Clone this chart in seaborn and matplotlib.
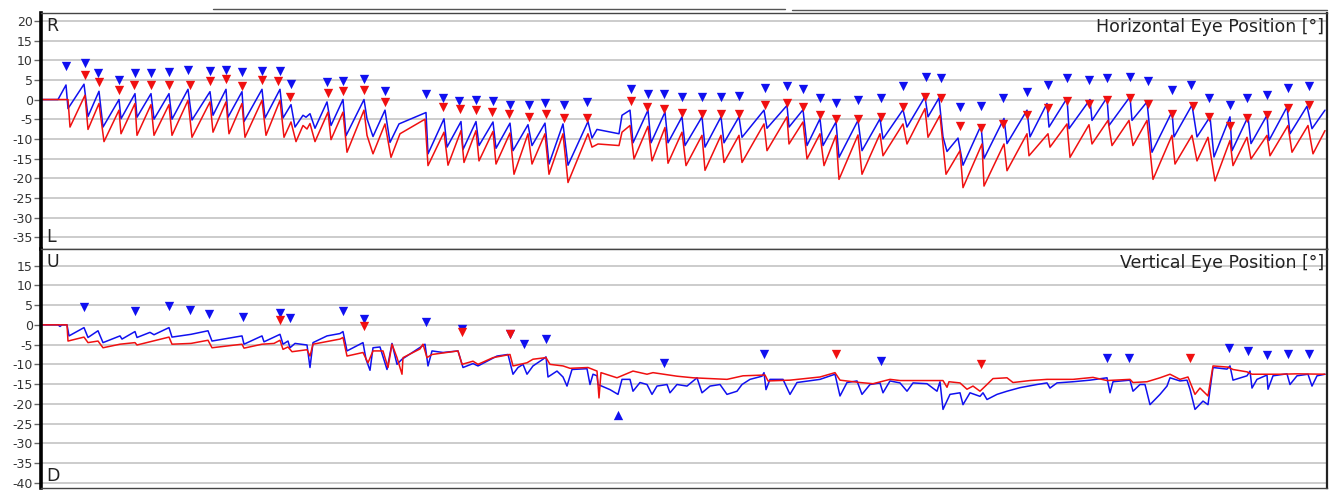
import numpy as np
import pandas as pd
import matplotlib
matplotlib.use("Agg")
import matplotlib.pyplot as plt
from matplotlib.lines import Line2D
import seaborn as sns

# horizontal eye position, blue trace (time, degrees)
hb_t = [0, 17, 25, 27, 43, 47, 58, 62, 78, 80, 94, 96, 110, 113, 128, 131, 147, 151, 169, 172,
        185, 187, 201, 203, 221, 224, 239, 242, 250, 254, 262, 265, 269, 274, 286, 290, 302, 305,
        323, 326, 332, 344, 349, 358, 385, 387, 403, 406, 420, 422, 435, 438, 452, 455, 469, 472,
        487, 491, 504, 508, 522, 527, 547, 551, 556, 578, 581, 589, 592, 607, 610, 624, 627, 641,
        644, 661, 664, 680, 683, 698, 701, 723, 726, 746, 748, 762, 766, 779, 782, 795, 798, 817,
        821, 839, 842, 862, 866, 884, 887, 898, 902, 906, 917, 922, 940, 943, 963, 966, 986, 989,
        1006, 1008, 1026, 1028, 1049, 1051, 1066, 1068, 1089, 1091, 1106, 1111, 1131, 1133, 1151,
        1156, 1169, 1173, 1189, 1191, 1207, 1210, 1226, 1228, 1246, 1249, 1266, 1271, 1284]
hb_v = [0, 0, 3.7, -2.3, 3.9, -4.3, 2.1, -7.0, 0.0, -4.9, 1.5, -4.5, 1.5, -5.0, 1.5, -5.0, 2.6, -5.2, 2.0, -4.0,
        2.6, -4.5, 2.0, -5.6, 2.6, -4.7, 2.6, -4.7, -1.3, -7.0, -4.0, -4.5, -3.6, -7.3, -0.6, -6.6, 0.0, -9.2,
        0.0, -4.9, -9.4, -2.7, -10.9, -6.2, -3.3, -13.8, -4.9, -12.1, -5.6, -12.7, -5.6, -11.7, -5.7, -12.4, -6.0, -13.0,
        -6.4, -11.7, -6.0, -16.4, -6.2, -16.7, -5.6, -9.8, -7.6, -8.7, -4.0, -2.7, -11.0, -2.7, -11.0, -3.2, -11.0, -4.4,
        -11.7, -4.4, -12.1, -4.4, -11.0, -4.4, -9.6, -2.7, -7.3, -1.5, -7.0, -2.6, -11.7, -4.9, -11.7, -5.7, -14.7, -5.3,
        -13.0, -4.9, -10.0, -2.6, -7.0, 0.7, -4.4, 0.4, -9.5, -13.2, -9.8, -16.7, -6.6, -15.0, -4.8, -11.2, -2.7, -9.5,
        -1.0, -7.0, 0.3, -7.4, 0.0, -5.3, 0.5, -6.6, 0.7, -5.3, -0.6, -13.4, -3.1, -9.5, -1.4,
        -9.5, -4.4, -14.6, -4.4, -13.0, -4.4, -11.2, -4.0, -10.4, -1.9, -8.7, -1.7, -7.4, -2.7]

# horizontal eye position, red trace
hr_t = [0, 27, 29, 44, 47, 58, 63, 78, 80, 94, 96, 110, 113, 128, 131, 147, 151, 169, 172, 185,
        188, 201, 204, 221, 225, 239, 243, 250, 255, 262, 266, 269, 274, 287, 290, 302, 306, 323,
        326, 332, 344, 350, 359, 384, 387, 403, 407, 420, 423, 435, 438, 452, 455, 469, 473, 487,
        491, 504, 508, 522, 527, 547, 551, 557, 578, 581, 589, 593, 607, 611, 624, 627, 641, 645,
        661, 664, 680, 683, 698, 701, 723, 726, 746, 748, 762, 766, 779, 783, 795, 798, 817, 821,
        839, 842, 862, 866, 884, 887, 899, 905, 919, 922, 941, 943, 963, 966, 986, 988, 1007, 1009,
        1026, 1029, 1048, 1051, 1067, 1071, 1088, 1092, 1106, 1112, 1131, 1134, 1151, 1156, 1167,
        1174, 1189, 1192, 1206, 1210, 1226, 1229, 1247, 1251, 1267, 1272, 1284]
hr_v = [0, 0, -7.0, 1.1, -7.6, -1.0, -10.7, -2.7, -8.7, -1.0, -9.1, -1.3, -9.1, -1.3, -9.1, -0.2, -9.6, -0.6, -8.3, -0.6,
        -8.7, -1.0, -9.6, -0.2, -9.1, -0.2, -9.6, -5.7, -10.7, -6.6, -7.5, -6.1, -10.7, -3.2, -10.2, -3.2, -13.4, -2.7,
        -9.1, -13.8, -6.2, -14.7, -8.7, -5.0, -16.8, -8.3, -16.7, -7.9, -16.0, -7.9, -15.6, -8.1, -16.4, -8.5, -19.0, -8.7,
        -16.4, -8.7, -19.0, -8.7, -21.1, -8.7, -12.1, -11.3, -11.7, -8.3, -6.6, -15.1, -6.8, -15.6, -7.1, -16.2, -8.3, -16.8,
        -9.1, -18.0, -9.1, -16.0, -9.1, -16.0, -6.2, -13.0, -4.4, -11.3, -5.7, -15.1, -8.7, -16.8, -9.1, -20.3, -9.0, -19.0,
        -8.7, -14.3, -6.2, -11.3, -2.3, -9.6, -4.0, -19.0, -13.0, -22.4, -11.3, -22.0, -11.3, -18.1, -8.7, -14.3, -8.7, -12.1,
        -6.2, -14.7, -6.4, -11.3, -5.3, -11.7, -5.3, -11.7, -5.3, -20.3, -9.1, -16.4, -9.1, -15.6, -9.6,
        -20.7, -10.4, -16.8, -9.6, -15.1, -9.1, -14.3, -6.6, -13.4, -6.6, -13.8, -7.9]

# horizontal markers
hbm_t = [25, 44, 57, 78, 94, 110, 128, 147, 169, 185, 201, 221, 239, 250, 286, 302, 323, 344, 385, 402,
         418, 435, 452, 469, 488, 504, 523, 546, 590, 607, 623, 641, 661, 680, 698, 724, 746, 762, 779, 795,
         817, 840, 862, 885, 900, 919, 940, 962, 986, 1007, 1026, 1048, 1066, 1089, 1107, 1131, 1150, 1168, 1189, 1206,
         1226, 1247, 1268]
hbm_v = [8.5, 9.2, 6.7, 5.0, 6.7, 6.7, 6.9, 7.5, 7.3, 7.5, 6.9, 7.3, 7.3, 3.9, 4.4, 4.7, 5.2, 2.1, 1.5, 0.3,
         -0.4, -0.2, -0.4, -1.3, -1.5, -1.0, -1.5, -0.6, 2.6, 1.5, 1.5, 0.7, 0.7, 0.7, 0.9, 3.0, 3.5, 2.6, 0.3, -1.0,
         -0.2, 0.4, 3.5, 5.8, 5.4, -1.9, -1.6, 0.4, 2.0, 3.8, 5.6, 5.0, 5.6, 5.8, 4.8, 2.4, 3.8, 0.4, -1.5, 0.4,
         1.1, 3.0, 3.5]
hrm_t = [44, 58, 78, 93, 110, 128, 149, 169, 185, 201, 221, 237, 249, 287, 302, 323, 344, 402, 419, 435,
         451, 468, 488, 505, 523, 546, 590, 606, 623, 641, 661, 680, 698, 724, 746, 762, 779, 795, 817, 840,
         862, 884, 900, 919, 940, 962, 986, 1007, 1026, 1048, 1066, 1089, 1107, 1131, 1152, 1168, 1189, 1206, 1226, 1247,
         1268]
hrm_v = [6.2, 4.4, 2.5, 3.8, 3.7, 3.8, 3.8, 4.7, 5.2, 3.5, 5.0, 4.7, 0.7, 1.7, 2.1, 2.4, -0.6, -1.9, -2.3, -2.7,
         -3.2, -3.6, -4.4, -3.6, -4.7, -4.7, -0.4, -1.9, -2.3, -3.4, -3.8, -3.8, -3.8, -1.5, -0.9, -1.9, -4.0, -4.9, -4.9, -4.4,
         -1.9, 0.7, 0.4, -6.8, -7.2, -6.2, -4.0, -2.1, -0.4, -1.2, -0.2, 0.3, -1.2, -3.8, -1.6, -4.4, -6.8, -4.7, -4.0, -2.1,
         -1.5]

# vertical eye position, blue trace
vb_t = [0, 17, 19, 21, 26, 28, 43, 47, 57, 62, 79, 81, 94, 96, 109, 113, 128, 131, 150, 167,
        171, 201, 203, 221, 223, 239, 242, 247, 249, 254, 266, 269, 272, 286, 299, 302, 306, 322, 325, 329,
        332, 339, 346, 351, 356, 361, 384, 387, 391, 402, 417, 422, 432, 437, 456, 467, 472, 477, 482, 486,
        492, 502, 505, 507, 516, 522, 526, 531, 546, 549, 552, 556, 557, 569, 577, 581, 589, 592, 599, 606,
        611, 616, 626, 629, 636, 646, 656, 661, 669, 679, 686, 696, 701, 709, 721, 723, 725, 729, 742, 749,
        756, 779, 794, 799, 806, 816, 821, 829, 839, 842, 849, 859, 866, 872, 886, 896, 899, 902, 909, 919,
        922, 929, 939, 942, 946, 956, 966, 979, 996, 1006, 1009, 1016, 1032, 1049, 1066, 1069, 1072, 1089, 1092, 1099,
        1104, 1109, 1119, 1126, 1129, 1139, 1146, 1149, 1154, 1162, 1167, 1172, 1186, 1189, 1192, 1206, 1209, 1211, 1216, 1226,
        1227, 1232, 1246, 1249, 1256, 1267, 1271, 1276, 1284]
vb_v = [0, 0, -0.4, 0, 0, -2.8, -0.7, -3.2, -1.5, -4.5, -2.8, -3.6, -1.7, -3.2, -1.9, -2.5, -0.7, -3.1, -2.4, -1.5,
        -4.1, -2.8, -4.9, -2.8, -4.3, -2.4, -4.9, -4.1, -5.8, -4.7, -5.1, -10.8, -4.5, -2.8, -2.2, -1.7, -6.6, -4.5, -8.7, -11.5,
        -5.8, -5.6, -11.3, -4.7, -10.0, -8.7, -4.9, -10.4, -6.6, -7.0, -6.6, -10.8, -9.8, -10.4, -7.9, -7.5, -12.5, -10.8, -10.0, -12.5,
        -10.4, -8.7, -8.1, -13.2, -11.7, -13.2, -15.5, -11.3, -11.1, -15.1, -12.5, -12.9, -15.1, -16.4, -17.6, -13.8, -13.8, -16.8, -14.6, -15.1,
        -17.6, -15.5, -15.1, -17.2, -15.1, -15.5, -13.4, -17.2, -15.5, -15.1, -17.6, -16.8, -15.1, -13.8, -13.0, -12.1, -16.4, -13.8, -13.8, -17.6,
        -14.6, -13.8, -12.5, -18.0, -14.6, -14.2, -17.6, -15.1, -14.7, -17.2, -14.2, -14.7, -16.8, -14.7, -14.9, -16.8, -14.4, -21.4, -17.6, -17.2,
        -20.2, -17.2, -18.1, -17.2, -18.9, -17.6, -16.8, -15.9, -15.1, -14.7, -16.0, -14.7, -14.4, -14.0, -13.4, -17.2, -14.4, -14.0, -16.8, -15.1,
        -15.1, -20.2, -17.6, -15.5, -13.4, -14.2, -14.0, -16.3, -21.4, -19.3, -20.2, -10.8, -11.2, -10.4, -14.0, -12.9, -11.7, -16.0, -13.8, -12.7,
        -16.3, -12.9, -12.4, -15.1, -12.9, -12.5, -15.5, -12.9, -12.5]

# vertical eye position, red trace
vr_t = [0, 26, 27, 43, 47, 57, 62, 79, 94, 96, 128, 131, 150, 167, 171, 201, 203, 221, 233, 239,
        242, 247, 251, 266, 269, 272, 299, 302, 306, 322, 327, 332, 342, 347, 351, 356, 361, 362, 379, 382,
        386, 391, 417, 421, 432, 437, 452, 469, 472, 486, 492, 505, 509, 522, 529, 547, 556, 558, 560, 576,
        592, 606, 612, 636, 652, 686, 702, 724, 727, 749, 779, 794, 799, 819, 832, 849, 859, 889, 902, 906,
        908, 919, 926, 932, 939, 946, 952, 966, 972, 989, 1006, 1032, 1052, 1066, 1089, 1092, 1106, 1119, 1129, 1139,
        1147, 1154, 1159, 1167, 1172, 1187, 1192, 1206, 1211, 1239, 1256, 1284]
vr_v = [0, 0, -4.1, -3.1, -4.5, -4.1, -5.8, -4.9, -4.5, -5.1, -3.1, -4.9, -4.7, -3.9, -5.8, -4.9, -5.9, -4.9, -4.7, -3.9,
        -6.2, -5.6, -6.8, -6.3, -7.9, -4.9, -3.6, -3.2, -7.9, -7.0, -9.6, -6.6, -6.6, -10.8, -4.9, -8.3, -12.5, -8.3, -6.1, -4.9,
        -8.3, -7.5, -6.6, -10.0, -9.2, -10.0, -8.3, -7.5, -10.4, -9.6, -8.7, -8.3, -10.0, -10.4, -11.0, -10.8, -11.7, -18.5, -12.1, -13.4,
        -11.7, -12.5, -12.1, -13.0, -13.4, -13.8, -12.9, -12.7, -14.2, -14.0, -13.2, -12.1, -14.0, -14.6, -14.9, -13.8, -14.1, -14.1, -14.1, -15.8,
        -14.4, -14.7, -16.3, -15.5, -16.8, -15.1, -13.6, -13.4, -14.6, -14.1, -13.8, -13.8, -13.3, -14.1, -13.8, -14.6, -14.4, -13.4, -12.5, -13.8,
        -13.2, -17.6, -16.0, -18.0, -10.4, -10.7, -11.3, -11.9, -12.5, -12.5, -12.4, -12.5]

# vertical markers
vbm_t = [43, 94, 128, 149, 168, 202, 239, 249, 302, 323, 385, 421, 469, 483, 505, 623, 723, 840, 1066, 1088,
         1188, 1207, 1226, 1247, 1268]
vbm_v = [4.4, 3.6, 4.8, 3.8, 2.7, 2.1, 3.0, 1.7, 3.6, 1.4, 0.6, -1.1, -2.2, -4.9, -3.5, -9.6, -7.3, -9.2, -8.5, -8.5,
         -5.8, -6.6, -7.7, -7.3, -7.5]
vbu_t = [577]
vbu_v = [-22.7]
vrm_t = [239, 323, 421, 469, 795, 940, 1149]
vrm_v = [1.3, -0.3, -1.9, -2.2, -7.3, -10.0, -8.5]

BLUE = "#1010f0"
RED = "#f01010"

sns.set_theme(style="white")
plt.rcParams["font.family"] = ["DejaVu Sans"]

fig = plt.figure(figsize=(13.37, 4.99), dpi=100)
ax1 = fig.add_axes([41 / 1337, 1 - 249 / 499, 1286 / 1337, 236 / 499])
ax2 = fig.add_axes([41 / 1337, 1 - 488 / 499, 1286 / 1337, 239 / 499])


def trace(ax, t, v, color):
    df = pd.DataFrame({"t": t, "v": v})
    sns.lineplot(data=df, x="t", y="v", ax=ax, color=color, lw=1.1,
                 sort=False, estimator=None)


def marks(ax, t, v, color, marker="v"):
    df = pd.DataFrame({"t": t, "v": v})
    sns.scatterplot(data=df, x="t", y="v", ax=ax, color=color, marker=marker,
                    s=45, linewidth=0, zorder=5)


trace(ax1, hb_t, hb_v, BLUE)
trace(ax1, hr_t, hr_v, RED)
marks(ax1, hbm_t, hbm_v, BLUE)
marks(ax1, hrm_t, hrm_v, RED)

trace(ax2, vb_t, vb_v, BLUE)
trace(ax2, vr_t, vr_v, RED)
marks(ax2, vbm_t, vbm_v, BLUE)
marks(ax2, vbu_t, vbu_v, BLUE, marker="^")
marks(ax2, vrm_t, vrm_v, RED)

for ax, lo, hi, ticks, title, top, bot in [
    (ax1, -38, 22, np.arange(-35, 21, 5), "Horizontal Eye Position [°]", "R", "L"),
    (ax2, -41.3, 19.2, np.arange(-40, 16, 5), "Vertical Eye Position [°]", "U", "D"),
]:
    ax.set_xlim(0, 1286)
    ax.set_ylim(lo, hi)
    ax.set_yticks(ticks)
    ax.set_yticklabels([str(k) for k in ticks])
    ax.set_xticks([])
    ax.set_xlabel("")
    ax.set_ylabel("")
    for y in ticks:
        ax.axhline(y, color="#c8c8c8", lw=1.3, zorder=0)
    ax.tick_params(axis="y", which="major", left=True, length=5, width=1,
                   color="#666666", labelsize=9, labelcolor="#333333", pad=1)
    ax.spines["left"].set_linewidth(2.6)
    ax.spines["left"].set_color("black")
    for s in ["top", "right", "bottom"]:
        ax.spines[s].set_linewidth(1.0)
        ax.spines[s].set_color("#444444")
    ax.spines["right"].set_linewidth(1.6)
    ax.spines["right"].set_color("#222222")
    ax.text(0.998, 0.94, title, transform=ax.transAxes, ha="right", va="center",
            fontsize=12.5, color="#222222")
    ax.text(0.004, 0.945, top, transform=ax.transAxes, ha="left", va="center",
            fontsize=12.5, color="#222222")
    ax.text(0.004, 0.05, bot, transform=ax.transAxes, ha="left", va="center",
            fontsize=12.5, color="#222222")

# scroll bar remnants at the very top of the picture
fig.add_artist(Line2D([213 / 1337, 785 / 1337], [1 - 8.5 / 499, 1 - 8.5 / 499],
                      color="#555555", lw=1.0))
fig.add_artist(Line2D([792 / 1337, 1327 / 1337], [1 - 9.5 / 499, 1 - 9.5 / 499],
                      color="#555555", lw=1.0))

fig.savefig("out.png", dpi=100)
